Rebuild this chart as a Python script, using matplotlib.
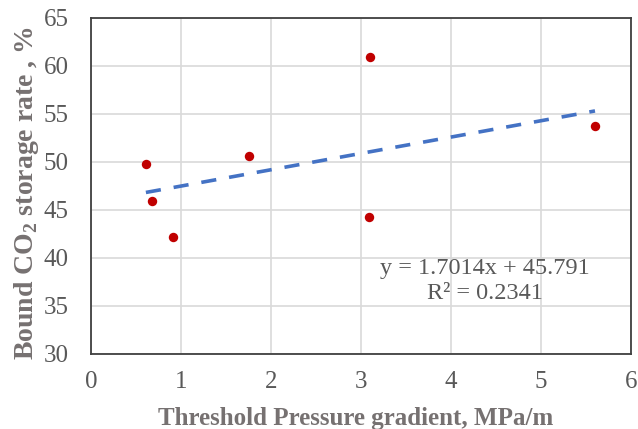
import numpy as np
import matplotlib
matplotlib.use("Agg")
import matplotlib.pyplot as plt

plt.rcParams['font.family'] = ['Liberation Serif', 'DejaVu Serif']
plt.rcParams['mathtext.fontset'] = 'custom'
plt.rcParams['mathtext.rm'] = 'Liberation Serif'
plt.rcParams['mathtext.bf'] = 'Liberation Serif:bold'

# Threshold pressure gradient (MPa/m) vs bound CO2 storage rate (%)
gradient = [0.61, 0.68, 0.91, 1.76, 3.10, 3.09, 5.60]
storage_rate = [49.8, 45.9, 42.15, 50.65, 60.95, 44.25, 53.7]

slope = 1.7014
intercept = 45.791
r_squared = 0.2341

x_ticks = [0, 1, 2, 3, 4, 5, 6]
y_ticks = [30, 35, 40, 45, 50, 55, 60, 65]

fig = plt.figure(figsize=(6.38, 4.29), dpi=100)
ax = fig.add_axes([91/638, 1-354/429, 540/638, 336/429])

ax.set_xlim(0, 6)
ax.set_ylim(30, 65)
ax.set_xticks(x_ticks)
ax.set_yticks(y_ticks)
ax.grid(True, color='#d9d9d9', linewidth=1.2)
ax.set_axisbelow(True)
ax.tick_params(length=0, labelsize=18, labelcolor='#595959')
ax.tick_params(axis='x', pad=12)
ax.tick_params(axis='y', pad=16)
for s in ax.spines.values():
    s.set_color('#404040')
    s.set_linewidth(1.3)

# linear trend line over the data range
xs = np.array([min(gradient), max(gradient)])
ax.plot(xs, slope * xs + intercept, color='#4472C4', linewidth=2.6,
        linestyle=(0, (4.2, 3.6)), solid_capstyle='butt',
        dash_capstyle='butt', zorder=2)

ax.scatter(gradient, storage_rate, s=46, color='#C00000', zorder=3,
           linewidths=0)

ax.text(4.38, 37.6, f"y = {slope}x + {intercept}\nR² = {r_squared}",
        fontsize=17.5, color='#595959', ha='center', va='center',
        multialignment='center', linespacing=1.3)

ax.set_xlabel("Threshold Pressure gradient, MPa/m", fontsize=18,
              fontweight='bold', color='#767171')
ax.xaxis.label.set_va('baseline')
ax.xaxis.set_label_coords(0.49, -0.211)

ax.set_ylabel(r"Bound CO$_\mathbf{2}$ storage rate , %", fontsize=20,
              fontweight='bold', color='#767171')
ax.yaxis.label.set_va('baseline')
ax.yaxis.set_label_coords(-0.107, 0.479)

fig.savefig("out.png", dpi=100)
